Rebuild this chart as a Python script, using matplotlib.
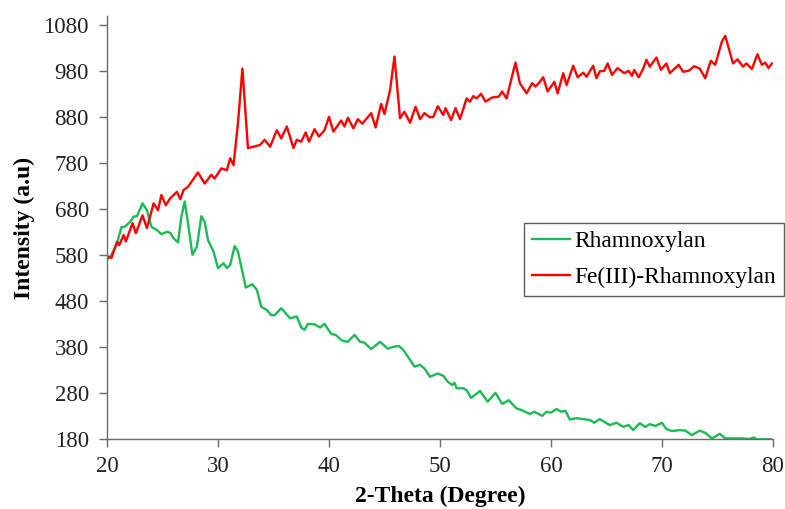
import matplotlib
matplotlib.use("Agg")
import matplotlib.pyplot as plt
import numpy as np

################
# data
################
# Rhamnoxylan (green)
theta_rh = [20.0, 20.4, 20.9, 21.3, 21.6, 22.1, 22.4, 22.7, 23.2, 23.6, 24.0, 24.5,
            24.9, 25.4, 25.7, 26.0, 26.4, 26.7, 27.0, 27.3, 27.7, 28.1, 28.5, 28.8,
            29.1, 29.6, 30.0, 30.5, 30.8, 31.1, 31.5, 31.8, 32.3, 32.5, 33.1, 33.5,
            33.9, 34.4, 34.8, 35.1, 35.7, 36.5, 37.1, 37.5, 37.8, 38.1, 38.7, 39.2,
            39.6, 40.2, 40.6, 41.2, 41.7, 42.3, 42.8, 43.2, 43.8, 44.6, 45.3, 45.8,
            46.3, 46.7, 47.1, 47.7, 48.2, 48.6, 49.1, 49.8, 50.3, 50.7, 51.1, 51.3,
            51.5, 52.1, 52.4, 52.8, 53.6, 54.3, 55.0, 55.6, 56.2, 56.9, 57.3, 58.1,
            58.5, 59.2, 59.6, 60.0, 60.5, 60.9, 61.3, 61.7, 62.3, 62.9, 63.5, 63.9,
            64.4, 65.0, 65.3, 65.9, 66.5, 67.0, 67.4, 68.0, 68.5, 68.9, 69.4, 70.0,
            70.4, 70.9, 71.6, 72.1, 72.7, 73.4, 73.9, 74.5, 74.8, 75.2, 75.7, 76.4,
            77.2, 77.9, 78.3, 78.5, 79.4, 79.8]
int_rh = [570, 581, 606, 641, 642, 653, 664, 665, 693, 678, 642, 635,
          626, 631, 629, 617, 608, 664, 697, 650, 581, 599, 665, 653,
          613, 588, 552, 563, 552, 559, 600, 588, 533, 510, 517, 505,
          468, 461, 450, 450, 465, 443, 447, 423, 418, 431, 430, 423,
          431, 409, 407, 394, 392, 407, 392, 390, 376, 392, 377, 381,
          383, 374, 360, 338, 342, 334, 316, 323, 318, 305, 298, 303,
          291, 291, 287, 270, 285, 262, 281, 257, 265, 247, 244, 235,
          240, 231, 240, 238, 246, 240, 242, 223, 226, 224, 222, 216,
          224, 215, 211, 216, 207, 211, 200, 215, 207, 213, 209, 216,
          202, 198, 200, 199, 189, 199, 194, 182, 186, 192, 182, 182,
          182, 181, 184, 180, 180, 180]

# Fe(III)-Rhamnoxylan (red)
theta_fe = [20.0, 20.4, 20.9, 21.1, 21.5, 21.7, 22.3, 22.6, 23.2, 23.6, 24.2, 24.6,
            24.9, 25.3, 25.7, 26.3, 26.6, 26.9, 27.3, 28.2, 28.8, 29.4, 29.7, 30.3,
            30.8, 31.1, 31.4, 31.8, 32.2, 32.7, 33.2, 33.8, 34.2, 34.7, 35.3, 35.7,
            36.2, 36.8, 37.1, 37.5, 37.9, 38.2, 38.7, 39.1, 39.6, 40.0, 40.4, 41.1,
            41.4, 41.7, 42.2, 42.6, 43.0, 43.8, 44.2, 44.7, 45.0, 45.5, 45.9, 46.4,
            46.8, 47.3, 47.8, 48.2, 48.6, 49.1, 49.4, 49.8, 50.3, 50.5, 51.0, 51.4,
            51.8, 52.4, 52.7, 53.0, 53.3, 53.7, 54.1, 54.7, 55.3, 55.6, 56.0, 56.8,
            57.2, 57.8, 58.3, 58.6, 58.9, 59.3, 59.7, 60.3, 60.6, 61.1, 61.4, 62.0,
            62.4, 62.9, 63.2, 63.8, 64.1, 64.4, 64.8, 65.1, 65.5, 66.0, 66.6, 67.0,
            67.3, 67.5, 67.9, 68.3, 68.6, 68.9, 69.5, 69.9, 70.4, 70.7, 71.5, 71.9,
            72.4, 72.9, 73.4, 73.9, 74.4, 74.8, 75.4, 75.7, 76.1, 76.4, 76.8, 77.3,
            77.6, 78.1, 78.6, 79.0, 79.3, 79.6, 79.9]
int_fe = [578, 574, 609, 602, 624, 610, 650, 628, 667, 639, 693, 678,
          711, 689, 704, 718, 702, 722, 729, 760, 736, 755, 747, 769,
          765, 791, 776, 867, 986, 813, 816, 820, 831, 816, 852, 834,
          860, 813, 831, 827, 847, 827, 854, 838, 852, 881, 849, 873,
          860, 879, 856, 876, 866, 889, 858, 909, 887, 939, 1012, 878,
          892, 868, 903, 876, 889, 880, 881, 904, 885, 900, 874, 900,
          876, 921, 914, 926, 921, 931, 914, 923, 925, 936, 921, 999,
          954, 932, 954, 947, 954, 967, 936, 957, 932, 976, 950, 992,
          967, 977, 968, 992, 965, 980, 981, 997, 972, 987, 976, 981,
          970, 983, 967, 985, 1005, 990, 1010, 983, 997, 976, 994, 979,
          981, 991, 986, 965, 1003, 994, 1045, 1057, 1023, 997, 1006, 990,
          997, 985, 1017, 994, 999, 987, 997]

x_ticks = [20, 30, 40, 50, 60, 70, 80]
y_ticks = [180, 280, 380, 480, 580, 680, 780, 880, 980, 1080]

################
# figure
################
plt.rcParams['font.family'] = ['Liberation Serif', 'DejaVu Serif']

fig = plt.figure(figsize=(7.85, 5.09), dpi=100)
ax = fig.add_axes([0.1363, 0.1369, 0.8484, 0.8315])

ax.plot(theta_rh, int_rh, color="#1DB954", lw=1.7, label="Rhamnoxylan")
ax.plot(theta_fe, int_fe, color="#FF0000", lw=1.7, label="Fe(III)-Rhamnoxylan")

ax.set_xlim(20, 80)
ax.set_ylim(180, 1100)
ax.set_xticks(x_ticks)
ax.set_yticks(y_ticks)

# only left and bottom axes, Excel style
for s in ["top", "right"]:
    ax.spines[s].set_visible(False)
for s in ["left", "bottom"]:
    ax.spines[s].set_color("#6b6b6b")
    ax.spines[s].set_linewidth(1.0)
ax.tick_params(direction="out", length=6, width=1.0, color="#6b6b6b",
               labelsize=16.5, labelcolor="#222222")
ax.tick_params(axis="x", pad=6)
ax.tick_params(axis="y", pad=7)

ax.set_xlabel("2-Theta (Degree)", fontsize=17, fontweight="bold", labelpad=6)
ax.set_ylabel("Intensity (a.u)", fontsize=17, fontweight="bold", labelpad=6)

leg = ax.legend(loc="upper left", bbox_to_anchor=(524/785, 1-223/509),
                bbox_transform=fig.transFigure, fontsize=16.8, frameon=True,
                fancybox=False, handlelength=1.6, handletextpad=0.2,
                borderpad=0.35, labelspacing=0.6, borderaxespad=0)
leg.get_frame().set_edgecolor("#333333")
leg.get_frame().set_linewidth(1.0)

plt.savefig("out.png", dpi=100)
